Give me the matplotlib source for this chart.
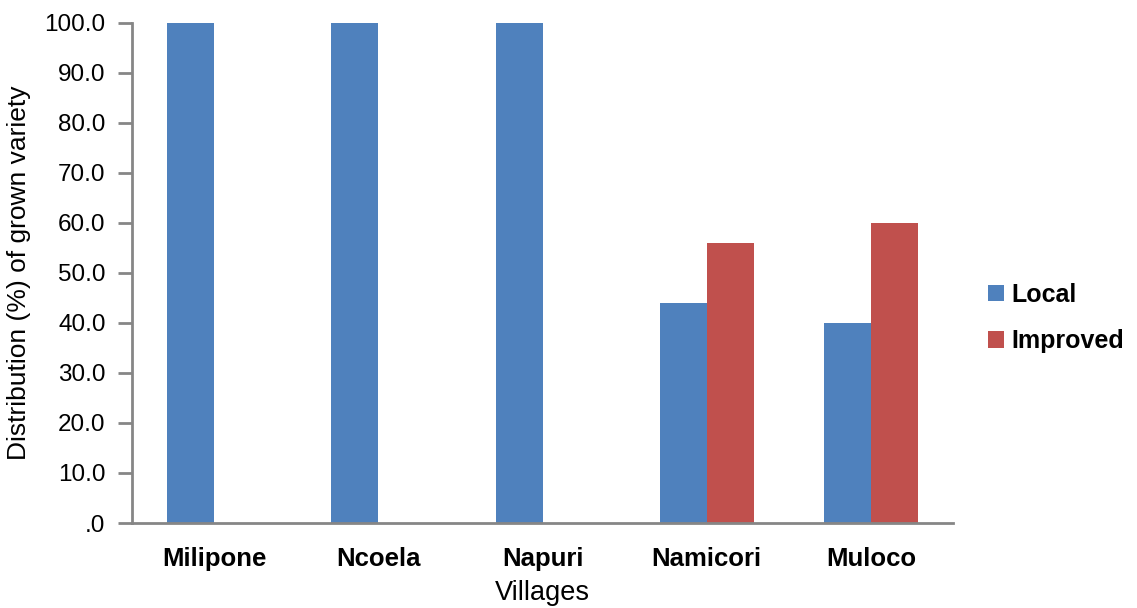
import numpy as np
import matplotlib
matplotlib.use("Agg")
import matplotlib.pyplot as plt

plt.rcParams['font.family'] = ['Liberation Sans', 'DejaVu Sans']

villages = ["Milipone", "Ncoela", "Napuri", "Namicori", "Muloco"]
local = [100.0, 100.0, 100.0, 44.0, 40.0]
improved = [0.0, 0.0, 0.0, 56.0, 60.0]
yticks = [0, 10, 20, 30, 40, 50, 60, 70, 80, 90, 100]
ytick_labels = [".0", "10.0", "20.0", "30.0", "40.0", "50.0", "60.0",
                "70.0", "80.0", "90.0", "100.0"]

fig = plt.figure(figsize=(11.37, 6.08), dpi=100)
ax = fig.add_axes([0.1161, 0.1398, 0.7221, 0.8224])

x = np.arange(len(villages))
w = 0.286
ax.bar(x - w / 2, local, w, color="#4F81BD", label="Local")
ax.bar(x + w / 2, improved, w, color="#C0504D", label="Improved")

ax.set_xlim(-0.5, len(villages) - 0.5)
ax.set_ylim(0, 100)
ax.set_yticks(yticks)
ax.set_yticklabels(ytick_labels, fontsize=17.5)
ax.set_xticks(x)
ax.set_xticklabels(villages, fontsize=18.5, fontweight="bold")

for side in ("top", "right"):
    ax.spines[side].set_visible(False)
for side in ("left", "bottom"):
    ax.spines[side].set_color("#868686")
    ax.spines[side].set_linewidth(2)
ax.tick_params(axis="y", length=10, width=2, color="#868686", pad=9)
ax.tick_params(axis="x", length=0, pad=17)

ax.set_ylabel("Distribution (%) of grown variety", fontsize=19, labelpad=10)
ax.set_xlabel("Villages", fontsize=19.5, labelpad=7)

# legend sits a little below the middle, right of the plot
ax.legend(loc="center left", bbox_to_anchor=(1.015, 0.41), frameon=False,
          prop={"size": 18, "weight": "bold"}, handlelength=0.65,
          handleheight=0.65, handletextpad=0.3, labelspacing=0.9)

fig.savefig("out.png", dpi=100)
